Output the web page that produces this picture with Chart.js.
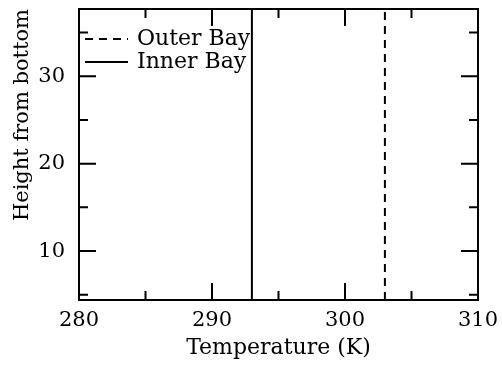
<!DOCTYPE html>
<html>
<head>
<meta charset="utf-8">
<script src="https://cdn.jsdelivr.net/npm/chart.js@4/dist/chart.umd.min.js"></script>
<style>
  html, body { margin: 0; padding: 0; background: #fff; }
  #wrap { width: 502px; height: 365px; }
</style>
</head>
<body>
<div id="wrap"><canvas id="c" width="502" height="365"></canvas></div>
<script>
// Vertical temperature profiles of the two bays
const heights = [4.4, 37.7];
const innerBayTemp = [293, 293];
const outerBayTemp = [303, 303];

const xRange = [280, 310];
const yRange = [4.4, 37.7];
const xTickLabels = [280, 290, 300, 310];
const yTickLabels = [10, 20, 30];
const xMinorTicks = [285, 295, 305];
const yMinorTicks = [5, 15, 25, 35];

const FONT = '"DejaVu Serif", "Liberation Serif", serif';

const toPoints = (temps) => temps.map((t, i) => ({ x: t, y: heights[i] }));

// Inward ticks on all four sides plus the frame
const frameTicks = {
  id: 'frameTicks',
  afterDatasetsDraw(chart) {
    const { ctx, chartArea: a, scales: { x, y } } = chart;
    ctx.save();
    ctx.strokeStyle = '#000';
    ctx.lineWidth = 2;
    ctx.strokeRect(a.left, a.top, a.right - a.left, a.bottom - a.top);
    const major = 17, minor = 9;
    const xt = (v, len) => {
      const px = x.getPixelForValue(v);
      ctx.beginPath();
      ctx.moveTo(px, a.bottom); ctx.lineTo(px, a.bottom - len);
      ctx.moveTo(px, a.top); ctx.lineTo(px, a.top + len);
      ctx.stroke();
    };
    const yt = (v, len) => {
      const py = y.getPixelForValue(v);
      ctx.beginPath();
      ctx.moveTo(a.left, py); ctx.lineTo(a.left + len, py);
      ctx.moveTo(a.right, py); ctx.lineTo(a.right - len, py);
      ctx.stroke();
    };
    xTickLabels.slice(1, -1).forEach(v => xt(v, major));
    xMinorTicks.forEach(v => xt(v, minor));
    yTickLabels.forEach(v => yt(v, major));
    yMinorTicks.forEach(v => yt(v, minor));
    ctx.restore();
  }
};

// Legend drawn inside the plot, top-left
const innerLegend = {
  id: 'innerLegend',
  afterDraw(chart) {
    const { ctx, chartArea: a } = chart;
    ctx.save();
    ctx.font = '22px ' + FONT;
    ctx.textBaseline = 'middle';
    ctx.fillStyle = '#000';
    chart.data.datasets.forEach((ds, i) => {
      const yy = a.top + 30 + i * 23;
      const x0 = a.left + 6;
      ctx.strokeStyle = ds.borderColor;
      ctx.lineWidth = 2;
      ctx.setLineDash(ds.borderDash || []);
      ctx.beginPath();
      ctx.moveTo(x0, yy); ctx.lineTo(x0 + 43, yy);
      ctx.stroke();
      ctx.setLineDash([]);
      ctx.fillText(ds.label, x0 + 52, yy);
    });
    ctx.restore();
  }
};

const noEdgePadding = (s) => {
  s.paddingLeft = 0; s.paddingRight = 0; s.paddingTop = 0; s.paddingBottom = 0;
};

new Chart(document.getElementById('c'), {
  type: 'line',
  data: {
    datasets: [
      {
        label: 'Outer Bay',
        data: toPoints(outerBayTemp),
        borderColor: '#000',
        borderWidth: 2,
        borderDash: [8, 6],
        pointRadius: 0,
        fill: false
      },
      {
        label: 'Inner Bay',
        data: toPoints(innerBayTemp),
        borderColor: '#000',
        borderWidth: 2,
        pointRadius: 0,
        fill: false
      }
    ]
  },
  options: {
    responsive: false,
    animation: false,
    layout: { padding: { top: 9, right: 24, left: 0, bottom: 0 } },
    plugins: { legend: { display: false }, tooltip: { enabled: false } },
    scales: {
      x: {
        type: 'linear',
        min: xRange[0], max: xRange[1],
        afterBuildTicks: s => { s.ticks = xTickLabels.map(v => ({ value: v })); },
        afterFit: s => { s.height = 65; noEdgePadding(s); },
        grid: { display: false, drawTicks: false },
        border: { display: false },
        ticks: { color: '#000', font: { family: FONT, size: 21 }, padding: 8, maxRotation: 0 },
        title: { display: true, text: 'Temperature (K)', color: '#000', font: { family: FONT, size: 22 }, padding: { top: 0 } }
      },
      y: {
        type: 'linear',
        min: yRange[0], max: yRange[1],
        afterBuildTicks: s => { s.ticks = yTickLabels.map(v => ({ value: v })); },
        afterFit: s => { s.width = 79; noEdgePadding(s); },
        grid: { display: false, drawTicks: false },
        border: { display: false },
        ticks: { color: '#000', font: { family: FONT, size: 21 }, padding: 14 },
        title: { display: true, text: 'Height from bottom', color: '#000', font: { family: FONT, size: 21 }, align: 'end', padding: { top: 10, bottom: 0 } }
      }
    }
  },
  plugins: [frameTicks, innerLegend]
});
</script>
</body>
</html>
